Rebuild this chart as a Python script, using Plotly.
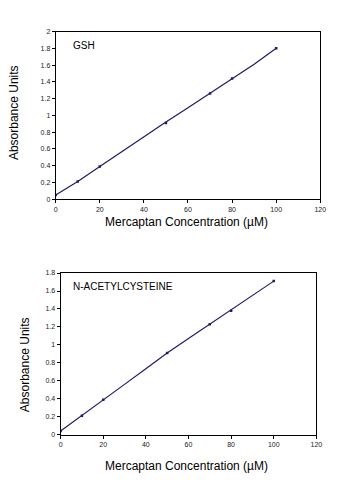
import plotly.graph_objects as go

# Standard curves: absorbance vs mercaptan concentration
conc = [0, 10, 20, 30, 40, 50, 60, 70, 80, 90, 100]
gsh_abs = [0.05, 0.21, 0.39, 0.57, 0.74, 0.92, 1.09, 1.26, 1.44, 1.61, 1.80]
nac_abs = [0.04, 0.21, 0.39, 0.56, 0.735, 0.91, 1.07, 1.23, 1.38, 1.55, 1.71]

# measured points marked on the curves
meas_conc = [0, 10, 20, 50, 70, 80, 100]
gsh_meas = [0.05, 0.21, 0.39, 0.91, 1.26, 1.44, 1.80]
nac_meas = [0.04, 0.21, 0.39, 0.91, 1.23, 1.38, 1.71]

x_ticks = [0, 20, 40, 60, 80, 100, 120]
gsh_yticks = [0, 0.2, 0.4, 0.6, 0.8, 1, 1.2, 1.4, 1.6, 1.8, 2]
gsh_ylabels = ["0", "0.2", "0.4", "0.6", "0.8", "1", "1.2", "1.4", "1.6", "1.8", "2"]
nac_yticks = [0, 0.2, 0.4, 0.6, 0.8, 1, 1.2, 1.4, 1.6, 1.8]
nac_ylabels = ["0", "0.2", "0.4", "0.6", "0.8", "1", "1.2", "1.4", "1.6", "1.8"]

W, H = 338, 483
LINE = "#1d1b6b"
FONT = "Liberation Sans, Arial, sans-serif"

fig = go.Figure()
fig.add_trace(go.Scatter(x=conc, y=gsh_abs, mode="lines",
                         line=dict(color=LINE, width=1.2), xaxis="x", yaxis="y"))
fig.add_trace(go.Scatter(x=meas_conc, y=gsh_meas, mode="markers",
                         marker=dict(color=LINE, size=2.5, symbol="square"), xaxis="x", yaxis="y"))
fig.add_trace(go.Scatter(x=conc, y=nac_abs, mode="lines",
                         line=dict(color=LINE, width=1.2), xaxis="x2", yaxis="y2"))
fig.add_trace(go.Scatter(x=meas_conc, y=nac_meas, mode="markers",
                         marker=dict(color=LINE, size=2.5, symbol="square"), xaxis="x2", yaxis="y2"))


def px_x(p):
    return p / W


def px_y(p):
    return 1 - p / H


axis_common = dict(showline=True, linecolor="black", linewidth=1, mirror=True,
                   ticks="outside", ticklen=3, tickwidth=1, tickcolor="black",
                   showgrid=False, zeroline=False, fixedrange=True,
                   tickfont=dict(family=FONT, size=7, color="#222"))

fig.update_layout(
    width=W, height=H, margin=dict(l=0, r=0, t=0, b=0),
    paper_bgcolor="white", plot_bgcolor="white", showlegend=False,
    xaxis=dict(domain=[px_x(55), px_x(326)], range=[0, 120], tickvals=x_ticks,
               anchor="y", **axis_common),
    yaxis=dict(domain=[px_y(198), px_y(28)], range=[0, 2], tickvals=gsh_yticks,
               ticktext=gsh_ylabels, anchor="x", **axis_common),
    xaxis2=dict(domain=[px_x(60), px_x(322)], range=[0, 120], tickvals=x_ticks,
                anchor="y2", **axis_common),
    yaxis2=dict(domain=[px_y(437), px_y(273)], range=[0, 1.8], tickvals=nac_yticks,
                ticktext=nac_ylabels, anchor="x2", **axis_common),
)

title_font = dict(family=FONT, size=12, color="black")
annots = [
    dict(text="Mercaptan Concentration (µM)", x=px_x(189), y=px_y(221)),
    dict(text="Mercaptan Concentration (µM)", x=px_x(189), y=px_y(469)),
    dict(text="Absorbance Units", x=px_x(13), y=px_y(110), textangle=-90),
    dict(text="Absorbance Units", x=px_x(23), y=px_y(366), textangle=-90),
]
for a in annots:
    fig.add_annotation(xref="paper", yref="paper", showarrow=False,
                       xanchor="center", yanchor="middle", font=title_font, **a)

label_font = dict(family=FONT, size=10, color="black")
fig.add_annotation(text="GSH", xref="paper", yref="paper", x=px_x(71), y=px_y(42),
                   xanchor="left", yanchor="middle", showarrow=False, font=label_font)
fig.add_annotation(text="N-ACETYLCYSTEINE", xref="paper", yref="paper", x=px_x(71),
                   y=px_y(287), xanchor="left", yanchor="middle", showarrow=False,
                   font=label_font)

fig.write_html("out.html")
